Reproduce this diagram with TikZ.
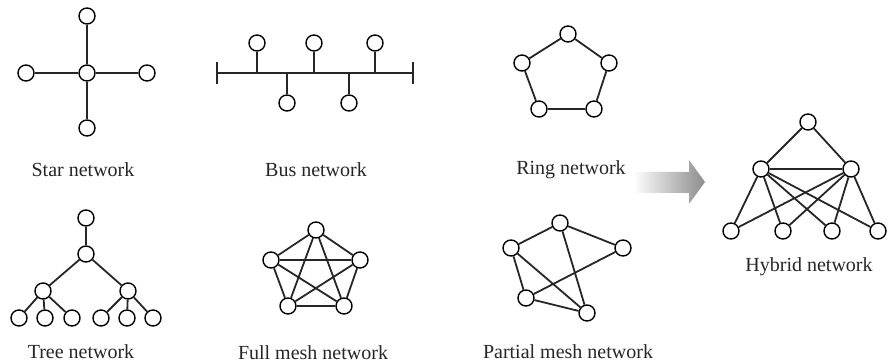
\documentclass[tikz,border=0pt]{standalone}
\usepackage{fontspec}
\setmainfont{Liberation Serif}
\begin{document}
\begin{tikzpicture}[x=0.5pt,y=-0.5pt,
    pc/.style={circle,draw,fill=white,line width=0.7pt,minimum size=8pt,inner sep=0pt},
    lbl/.style={font=\fontsize{10}{12}\selectfont,text=black!85}]
    \useasboundingbox (0,0) rectangle (889,363);

    % star
    \node[pc] (s0) at ( 87, 73) {};
    \node[pc] (s1) at ( 87, 16) {};
    \node[pc] (s2) at (147, 73) {};
    \node[pc] (s3) at ( 87,128) {};
    \node[pc] (s4) at ( 26, 73) {};
    \node[lbl] (starlbl) at (83,170) {Star network};

    % bus
    \coordinate (bl) at (217,73);
    \coordinate (br) at (413,73);
    \coordinate (bt1) at (217,62);
    \coordinate (bb1) at (217,84);
    \coordinate (bt2) at (413,62);
    \coordinate (bb2) at (413,84);
    \coordinate (j1) at (257,73);
    \coordinate (j2) at (287,73);
    \coordinate (j3) at (314,73);
    \coordinate (j4) at (349,73);
    \coordinate (j5) at (375,73);
    \node[pc] (b1) at (257, 43) {};
    \node[pc] (b2) at (287,103) {};
    \node[pc] (b3) at (314, 43) {};
    \node[pc] (b4) at (349,103) {};
    \node[pc] (b5) at (375, 43) {};
    \node[lbl] (buslbl) at (316,170) {Bus network};

    % ring
    \node[pc] (r1) at (568, 34) {};
    \node[pc] (r2) at (609, 63) {};
    \node[pc] (r3) at (594,109) {};
    \node[pc] (r4) at (539,109) {};
    \node[pc] (r5) at (522, 63) {};
    \node[lbl] (ringlbl) at (571,170) {Ring network};

    % tree
    \node[pc] (t0) at ( 86,218) {};
    \node[pc] (t1) at ( 86,254) {};
    \node[pc] (t2) at ( 43,291) {};
    \node[pc] (t3) at (128,291) {};
    \node[pc] (t4) at ( 19,318) {};
    \node[pc] (t5) at ( 45,318) {};
    \node[pc] (t6) at ( 72,318) {};
    \node[pc] (t7) at (101,318) {};
    \node[pc] (t8) at (127,318) {};
    \node[pc] (t9) at (153,318) {};
    \node[lbl] (treelbl) at (81,352) {Tree network};

    % full mesh
    \node[pc] (f1) at (316,230) {};
    \node[pc] (f2) at (360,260) {};
    \node[pc] (f3) at (344,306) {};
    \node[pc] (f4) at (288,306) {};
    \node[pc] (f5) at (271,260) {};
    \node[lbl] (fulllbl) at (313,353) {Full mesh network};

    % partial mesh
    \node[pc] (m1) at (560,223) {};
    \node[pc] (m2) at (623,248) {};
    \node[pc] (m3) at (587,313) {};
    \node[pc] (m4) at (526,298) {};
    \node[pc] (m5) at (511,248) {};
    \node[lbl] (partlbl) at (568,352) {Partial mesh network};

    % hybrid
    \node[pc] (h0) at (808,122) {};
    \node[pc] (hl) at (761,169) {};
    \node[pc] (hr) at (851,169) {};
    \node[pc] (h1) at (731,231) {};
    \node[pc] (h2) at (783,231) {};
    \node[pc] (h3) at (832,231) {};
    \node[pc] (h4) at (878,231) {};
    \node[lbl] (hyblbl) at (809,267) {Hybrid network};

    % arrow
    \shade[left color=white,right color=black!45]
        (633,172) -- (689,172) -- (689,160) -- (705,182)
        -- (689,204) -- (689,193) -- (633,193) -- cycle;

    \begin{scope}[every path/.style={draw,line width=0.9pt,black!85}]
       \draw (s0) -- (s1);
       \draw (s0) -- (s2);
       \draw (s0) -- (s3);
       \draw (s0) -- (s4);

       \draw (bl) -- (br);
       \draw (bt1) -- (bb1);
       \draw (bt2) -- (bb2);
       \draw (b1) -- (j1);
       \draw (b2) -- (j2);
       \draw (b3) -- (j3);
       \draw (b4) -- (j4);
       \draw (b5) -- (j5);

       \draw (r1) -- (r2);
       \draw (r2) -- (r3);
       \draw (r3) -- (r4);
       \draw (r4) -- (r5);
       \draw (r5) -- (r1);

       \draw (t0) -- (t1);
       \draw (t1) -- (t2);
       \draw (t1) -- (t3);
       \draw (t2) -- (t4);
       \draw (t2) -- (t5);
       \draw (t2) -- (t6);
       \draw (t3) -- (t7);
       \draw (t3) -- (t8);
       \draw (t3) -- (t9);

       \draw (f1) -- (f2);
       \draw (f1) -- (f3);
       \draw (f1) -- (f4);
       \draw (f1) -- (f5);
       \draw (f2) -- (f3);
       \draw (f2) -- (f4);
       \draw (f2) -- (f5);
       \draw (f3) -- (f4);
       \draw (f3) -- (f5);
       \draw (f4) -- (f5);

       \draw (m1) -- (m5);
       \draw (m1) -- (m2);
       \draw (m1) -- (m3);
       \draw (m5) -- (m4);
       \draw (m5) -- (m3);
       \draw (m4) -- (m3);
       \draw (m4) -- (m2);

       \draw (h0) -- (hl);
       \draw (h0) -- (hr);
       \draw (hl) -- (hr);
       \draw (hl) -- (h1);
       \draw (hl) -- (h2);
       \draw (hl) -- (h3);
       \draw (hl) -- (h4);
       \draw (hr) -- (h1);
       \draw (hr) -- (h2);
       \draw (hr) -- (h3);
       \draw (hr) -- (h4);
    \end{scope}

\end{tikzpicture}
\end{document}
